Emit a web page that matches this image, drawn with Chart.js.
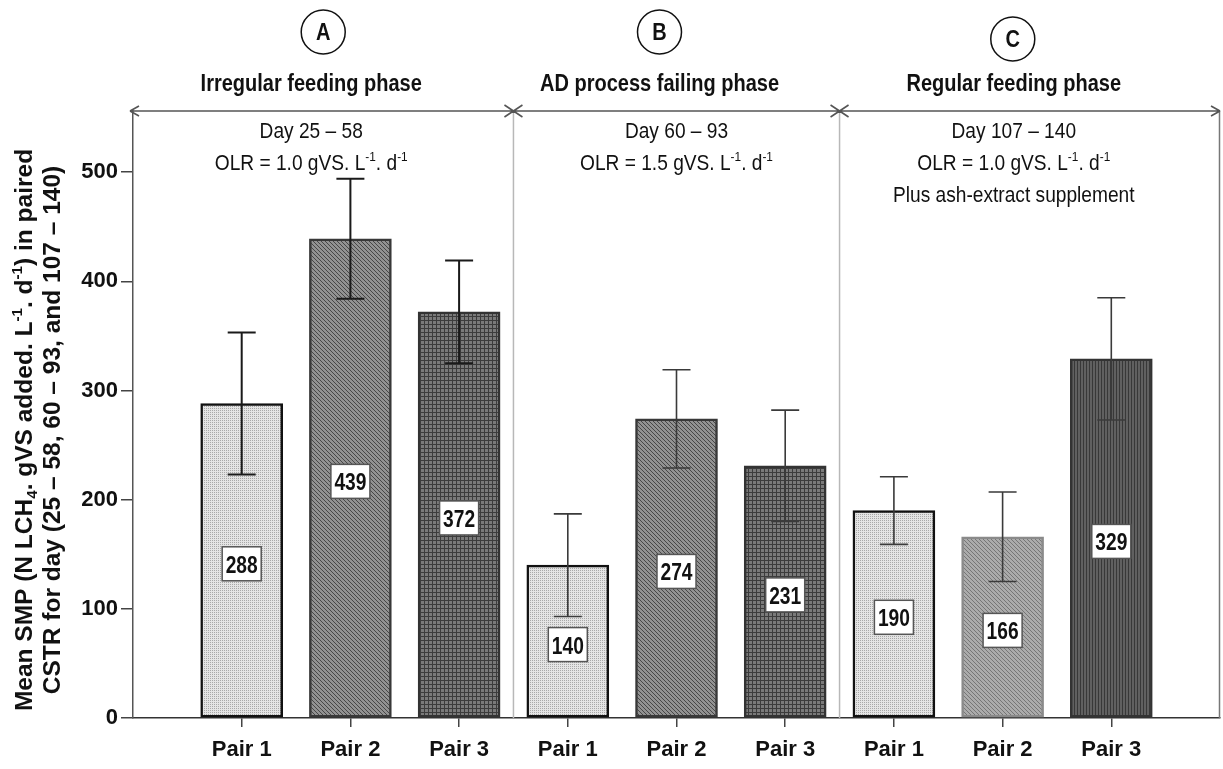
<!DOCTYPE html>
<html><head><meta charset="utf-8">
<script src="https://cdn.jsdelivr.net/npm/chart.js@4/dist/chart.umd.min.js"></script>
<style>html,body{margin:0;padding:0;background:#fff}#wrap{width:1223px;height:769px;position:relative}</style>
</head><body><div id="wrap"><canvas id="c" width="1223" height="769"></canvas></div>
<script>
// ---- data ----
const categories = ['Pair 1','Pair 2','Pair 3','Pair 1','Pair 2','Pair 3','Pair 1','Pair 2','Pair 3'];
const phaseIds = ['A','B','C'];
const phaseNames = ['Irregular feeding phase','AD process failing phase','Regular feeding phase'];
const phaseDays = ['Day 25 – 58','Day 60 – 93','Day 107 – 140'];
const phaseOLR = ['1.0','1.5','1.0'];
const phaseExtra = ['','','Plus ash-extract supplement'];
const meanSMP = [288,439,372,140,274,231,190,166,329];
const errSMP = [65,55,47,47,45,51,31,41,56];
const yTicks = [0,100,200,300,400,500];

// ---- styles ----
const FAM = '"Liberation Sans", Arial, sans-serif';
function pattern(kind, bg, fg){
  const c = document.createElement('canvas');
  const s = kind==='vert' ? 3 : 4;
  c.width = c.height = s;
  const g = c.getContext('2d');
  g.fillStyle = bg; g.fillRect(0,0,s,s);
  g.fillStyle = fg;
  if (kind==='dots'){ g.fillRect(0,0,1,1); g.fillRect(2,2,1,1); g.fillRect(2,0,1,1); g.fillRect(0,2,1,1); }
  if (kind==='diag'){ for(let i=0;i<s;i++){ g.fillRect(i,i,1,1); } }
  if (kind==='grid'){ g.fillRect(0,0,s,1); g.fillRect(0,0,1,s); }
  if (kind==='vert'){ g.fillRect(0,0,1,s); }
  return g.createPattern(c,'repeat');
}
const pDots = pattern('dots','#e4e4e4','#a8a8a8');
const pDiag = pattern('diag','#929292','#474747');
const pGrid = pattern('grid','#7a7a7a','#3c3c3c');
const pVert = pattern('vert','#606060','#383838');
const pDiagLight = pattern('diag','#ababab','#767676');
const barFills = [pDots,pDiag,pGrid, pDots,pDiag,pGrid, pDots,pDiagLight,pVert];
const barBorders = ['#111','#383838','#333','#111','#383838','#333','#111','#8a8a8a','#333'];
const errColors = ['#1a1a1a','#1a1a1a','#1a1a1a','#3a3a3a','#3a3a3a','#3a3a3a','#3a3a3a','#3a3a3a','#3a3a3a'];
const headerOffsets = { circle:[0,-17,-17], name:[-12,-17,-16], text:[-12,0,-16], circleY:[32,32,39] };

function fontStr(weight, size){ return `${weight} ${size}px ${FAM}`; }
function segW(ctx, segs, size, weight){
  let w = 0;
  for (const s of segs){ const fs = (s.sup||s.sub)?size*0.62:size; ctx.font = fontStr(weight, fs); w += ctx.measureText(s.t).width; }
  return w;
}
function drawRich(ctx, segs, x, y, size, weight, color, sx){
  sx = sx || 1;
  const w = segW(ctx, segs, size, weight);
  ctx.save();
  ctx.translate(x, y); ctx.scale(sx, 1);
  let cx = -w/2;
  ctx.textAlign='left'; ctx.textBaseline='alphabetic'; ctx.fillStyle=color;
  for (const s of segs){
    const fs = (s.sup||s.sub)?size*0.62:size;
    ctx.font = fontStr(weight, fs);
    const dy = s.sup ? -size*0.42 : (s.sub ? size*0.22 : 0);
    ctx.fillText(s.t, cx, dy);
    cx += ctx.measureText(s.t).width;
  }
  ctx.restore();
}

const decor = {
  id:'decor',
  afterDatasetsDraw(chart){
    const {ctx, scales:{x,y}} = chart;
    ctx.save();
    // error bars
    meanSMP.forEach((m,i)=>{
      const px = x.getPixelForValue(i+1);
      const yt = y.getPixelForValue(m+errSMP[i]);
      const yb = y.getPixelForValue(m-errSMP[i]);
      ctx.strokeStyle = errColors[i]; ctx.lineWidth = i<3?2:1.6;
      ctx.beginPath();
      ctx.moveTo(px,yt); ctx.lineTo(px,yb);
      ctx.moveTo(px-14,yt); ctx.lineTo(px+14,yt);
      ctx.moveTo(px-14,yb); ctx.lineTo(px+14,yb);
      ctx.stroke();
    });
    // value boxes
    const sx = 0.8;
    meanSMP.forEach((m,i)=>{
      const px = x.getPixelForValue(i+1);
      const py = y.getPixelForValue(m/2) + 3;
      ctx.font = fontStr('bold', 24);
      const tw = ctx.measureText(String(m)).width * sx;
      const w = tw+7, h = 34;
      ctx.fillStyle='#fff'; ctx.fillRect(px-w/2, py-h/2, w, h);
      ctx.strokeStyle='#555'; ctx.lineWidth=1.5; ctx.strokeRect(px-w/2, py-h/2, w, h);
      drawRich(ctx, [{t:String(m)}], px, py+9, 24, 'bold', '#111', sx);
    });
    ctx.restore();
  },
  afterDraw(chart){
    const {ctx, chartArea:ca, scales:{x}} = chart;
    const seps = [x.getPixelForValue(3.5), x.getPixelForValue(6.5)];
    const bounds = [ca.left, seps[0], seps[1], ca.right];
    ctx.save();
    // separators and right border
    ctx.strokeStyle='#b8b8b8'; ctx.lineWidth=1.5;
    ctx.beginPath();
    seps.forEach(s=>{ ctx.moveTo(s,ca.top); ctx.lineTo(s,ca.bottom); });
    ctx.stroke();
    ctx.strokeStyle='#777'; ctx.beginPath(); ctx.moveTo(ca.right-0.5,ca.top); ctx.lineTo(ca.right-0.5,ca.bottom); ctx.stroke();
    // top arrow line
    const ty = ca.top;
    ctx.strokeStyle='#555'; ctx.lineWidth=1.6;
    ctx.beginPath();
    ctx.moveTo(ca.left-3,ty); ctx.lineTo(ca.right,ty);
    ctx.moveTo(ca.left-3,ty); ctx.lineTo(ca.left+6,ty-5);
    ctx.moveTo(ca.left-3,ty); ctx.lineTo(ca.left+6,ty+5);
    ctx.moveTo(ca.right,ty); ctx.lineTo(ca.right-9,ty-5);
    ctx.moveTo(ca.right,ty); ctx.lineTo(ca.right-9,ty+5);
    seps.forEach(s=>{ ctx.moveTo(s-9,ty-6); ctx.lineTo(s+9,ty+6); ctx.moveTo(s-9,ty+6); ctx.lineTo(s+9,ty-6); });
    ctx.stroke();
    // phase headers
    const hs = 0.87;
    for (let k=0;k<3;k++){
      const c = (bounds[k]+bounds[k+1])/2;
      const cxC = c + headerOffsets.circle[k];
      const cy = headerOffsets.circleY[k];
      ctx.strokeStyle='#111'; ctx.lineWidth=1.5;
      ctx.beginPath(); ctx.arc(cxC, cy, 22, 0, Math.PI*2); ctx.stroke();
      drawRich(ctx, [{t:phaseIds[k]}], cxC, cy+8, 23, 'bold', '#111', hs);
      drawRich(ctx, [{t:phaseNames[k]}], c+headerOffsets.name[k], 91, 23, 'bold', '#111', hs);
      const tc = c+headerOffsets.text[k];
      drawRich(ctx, [{t:phaseDays[k]}], tc, 138, 22, 'normal', '#111', hs);
      drawRich(ctx, [{t:'OLR = '+phaseOLR[k]+' gVS. L'},{t:'-1',sup:true},{t:'. d'},{t:'-1',sup:true}], tc, 170, 22, 'normal', '#111', hs);
      if (phaseExtra[k]) drawRich(ctx, [{t:phaseExtra[k]}], tc, 202, 22, 'normal', '#111', hs);
    }
    // y-axis title (two lines, rotated)
    const midY = 430;
    const lines = [
      [{t:'Mean SMP (N LCH'},{t:'4',sub:true},{t:'. gVS added. L'},{t:'-1',sup:true},{t:'. d'},{t:'-1',sup:true},{t:') in paired'}],
      [{t:'CSTR for day (25 – 58, 60 – 93, and 107 – 140)'}]
    ];
    [23,51].forEach((lx,li)=>{
      ctx.save(); ctx.translate(lx, midY); ctx.rotate(-Math.PI/2);
      drawRich(ctx, lines[li], 0, 9, 24.5, 'bold', '#111');
      ctx.restore();
    });
    ctx.restore();
  }
};

new Chart(document.getElementById('c'), {
  type:'bar',
  data:{
    labels:['', ...categories, ''],
    datasets:[{
      data:[null, ...meanSMP, null],
      backgroundColor:[null, ...barFills, null],
      borderColor:[null, ...barBorders, null],
      borderWidth:2.5,
      borderSkipped:false,
      barThickness:82
    }]
  },
  options:{
    responsive:false, animation:false, devicePixelRatio:1,
    layout:{padding:{top:111,right:2,left:0,bottom:0}},
    plugins:{legend:{display:false}, tooltip:{enabled:false}},
    scales:{
      x:{
        offset:false,
        afterFit(s){ s.height = 51; },
        grid:{display:true, offset:false, drawOnChartArea:false, drawTicks:true, tickLength:9,
              color:(c)=> (c.index>0 && c.index<categories.length+1) ? '#444' : 'rgba(0,0,0,0)', lineWidth:1.5},
        border:{display:true, color:'#333', width:1.5},
        ticks:{autoSkip:false, maxRotation:0, color:'#111', padding:3, font:{family:FAM, size:22, weight:'bold', lineHeight:1.82}}
      },
      y:{
        min:0, max:556,
        afterFit(s){ s.width = 133; },
        afterBuildTicks(s){ s.ticks = yTicks.map(v=>({value:v})); },
        grid:{display:true, drawOnChartArea:false, drawTicks:true, tickLength:12, color:'#444', lineWidth:1.5},
        border:{display:true, color:'#555', width:1.5},
        ticks:{color:'#111', padding:3, font:{family:FAM, size:22, weight:'bold'}}
      }
    }
  },
  plugins:[decor]
});
</script></body></html>
